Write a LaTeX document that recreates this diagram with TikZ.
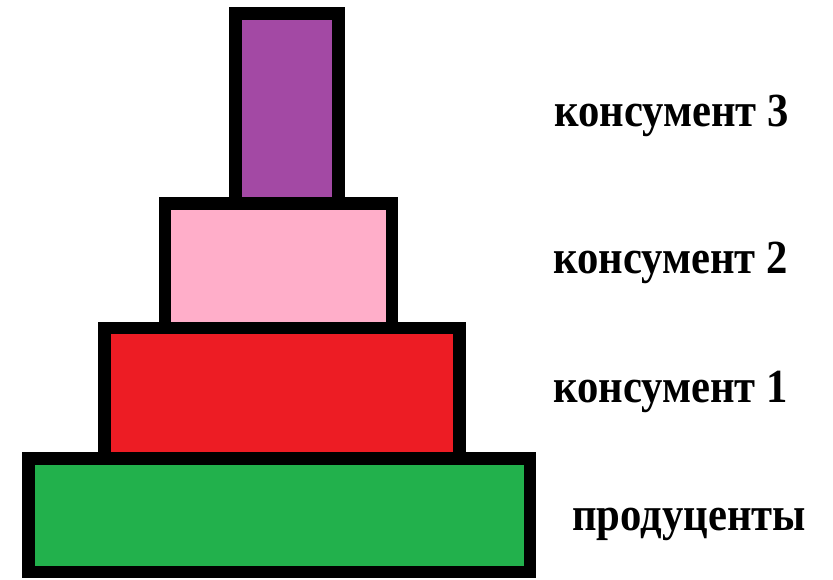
\documentclass[tikz,border=0pt]{standalone}
\usepackage{fontspec}
\setmainfont{Liberation Serif}
\definecolor{lvlpurple}{HTML}{A349A4}
\definecolor{lvlpink}{HTML}{FFAEC9}
\definecolor{lvlred}{HTML}{ED1C24}
\definecolor{lvlgreen}{HTML}{22B14C}
\newcommand{\lvltext}[1]{\scalebox{0.97}[1.08]{#1}}
\begin{document}
\begin{tikzpicture}[x=1pt,y=-1pt,
  level/.style={draw=black, line width=12.5pt, inner sep=0pt, outer sep=0pt, rectangle},
  lbl/.style={anchor=base west, inner sep=0pt, font=\fontsize{44}{50}\selectfont\bfseries}]
\useasboundingbox (0,0) rectangle (833,580);
\node[level, fill=lvlpurple, minimum width=103pt, minimum height=190pt] (k3) at (287,108.5) {};
\node[level, fill=lvlpink, minimum width=227pt, minimum height=124.5pt] (k2) at (278.5,265.75) {};
\node[level, fill=lvlred, minimum width=355pt, minimum height=130pt] (k1) at (282,393) {};
\node[level, fill=lvlgreen, minimum width=501.5pt, minimum height=113.5pt] (pr) at (279.25,515.25) {};
\node[lbl] (t3) at (554,127) {\lvltext{консумент 3}};
\node[lbl] (t2) at (553,273) {\lvltext{консумент 2}};
\node[lbl] (t1) at (553,402) {\lvltext{консумент 1}};
\node[lbl] (t0) at (572,530) {\lvltext{продуценты}};
\end{tikzpicture}
\end{document}
